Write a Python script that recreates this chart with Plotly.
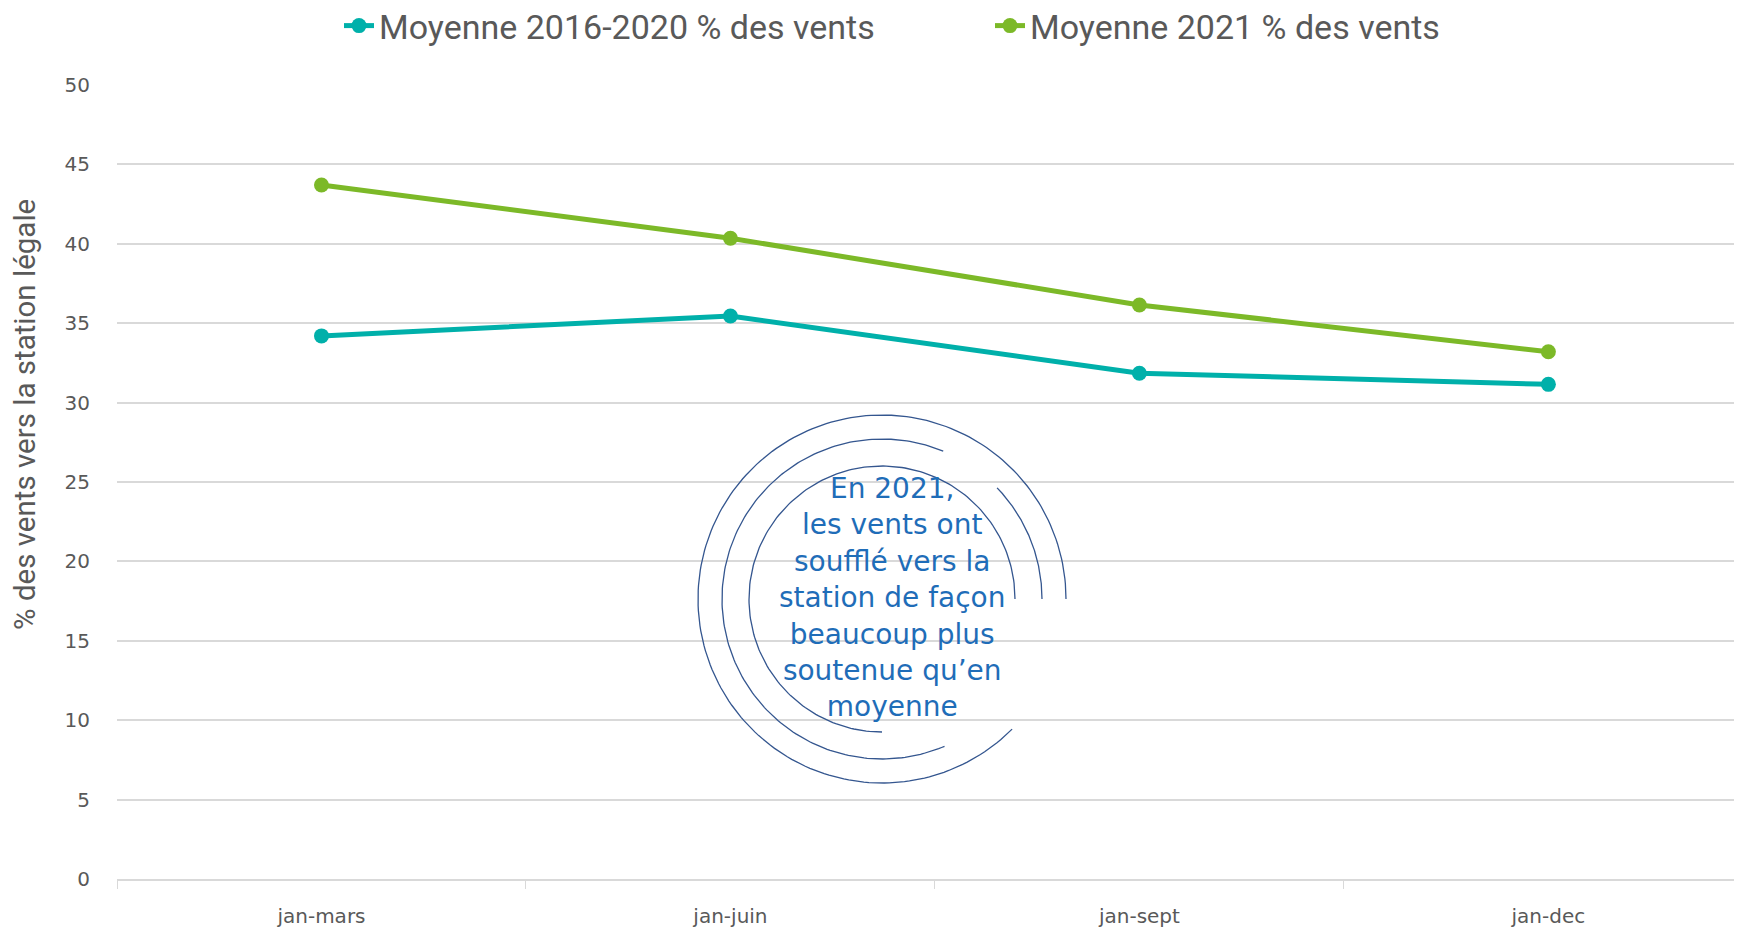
import numpy as np
import plotly.graph_objects as go

categories = ['jan-mars', 'jan-juin', 'jan-sept', 'jan-dec']
moy_2016_2020 = [34.2, 35.45, 31.85, 31.15]
moy_2021 = [43.7, 40.35, 36.15, 33.2]
y_ticks = [0, 5, 10, 15, 20, 25, 30, 35, 40, 45, 50]

W, H = 1742, 930
OFF = 8  # page body margin
ML, MR, MT, MB = 109, 0, 77, 59

fig = go.Figure()

fig.add_trace(go.Scatter(
    x=categories, y=moy_2016_2020,
    name='Moyenne 2016-2020 % des vents',
    mode='lines+markers',
    line=dict(color='#00B0AA', width=5),
    marker=dict(size=15, color='#00B0AA'),
))
fig.add_trace(go.Scatter(
    x=categories, y=moy_2021,
    name='Moyenne 2021 % des vents',
    mode='lines+markers',
    line=dict(color='#7CB928', width=5),
    marker=dict(size=15, color='#7CB928'),
))

# decorative arcs around the callout, drawn in pixel space on an overlay axis
cx, cy = 882 - OFF, 599 - OFF
arcs = [(184, 0, 315), (160, 67.5, 293), (160, 0, 44), (133, 0, 270)]
for r, a0, a1 in arcs:
    t = np.radians(np.linspace(a0, a1, 200))
    fig.add_trace(go.Scatter(
        x=cx + r * np.cos(t), y=cy - r * np.sin(t),
        xaxis='x2', yaxis='y2', mode='lines',
        line=dict(color='#34568F', width=1.3),
        showlegend=False, hoverinfo='skip',
    ))

fig.add_annotation(
    x=892 - OFF, y=597 - OFF, xref='x2', yref='y2',
    text='En 2021,<br>les vents ont<br>soufflé vers la<br>station de façon<br>beaucoup plus<br>soutenue qu’en<br>moyenne',
    showarrow=False,
    font=dict(family='DejaVu Sans, sans-serif', size=28, color='#1F6DB8'),
    align='center',
)

# y axis title sits higher than the plot centre in the original
plot_w = W - ML - MR
plot_h = H - MT - MB
fig.add_annotation(
    x=(25 - OFF - ML) / plot_w, y=(H - MB - (415 - OFF)) / plot_h,
    xref='paper', yref='paper', xanchor='center', yanchor='middle',
    text='% des vents vers la station légale',
    textangle=-90, showarrow=False,
    font=dict(family='Roboto, sans-serif', size=29.5, color='#595959'),
)

fig.update_layout(
    width=W, height=H,
    margin=dict(l=ML, r=MR, t=MT, b=MB, autoexpand=False),
    plot_bgcolor='white',
    paper_bgcolor='white',
    font=dict(family='DejaVu Sans, sans-serif', color='#595959'),
    legend=dict(
        orientation='h',
        x=331 / W, xref='container', xanchor='left',
        y=1 - 18 / H, yref='container', yanchor='middle',
        font=dict(family='Roboto, sans-serif', size=34, color='#595959'),
        entrywidth=606,
        traceorder='normal',
    ),
    xaxis=dict(
        type='category',
        range=[-0.5, 3.493],
        tickson='boundaries',
        ticks='outside', ticklen=8, tickcolor='#D9D9D9',
        showline=True, linecolor='#D9D9D9', linewidth=1.5,
        showgrid=False,
        ticklabelstandoff=18,
        tickfont=dict(family='DejaVu Sans, sans-serif', size=20, color='#595959'),
    ),
    yaxis=dict(
        range=[0, 50],
        tickvals=y_ticks,
        gridcolor='#D9D9D9', gridwidth=1.5,
        zeroline=False,
        ticklabelstandoff=26,
        tickfont=dict(family='DejaVu Sans, sans-serif', size=20, color='#595959'),
    ),
    xaxis2=dict(range=[ML, W - MR], overlaying='x', visible=False, fixedrange=True),
    yaxis2=dict(range=[H - MB, MT], overlaying='y', visible=False, fixedrange=True),
)

fig.write_html('out.html')
